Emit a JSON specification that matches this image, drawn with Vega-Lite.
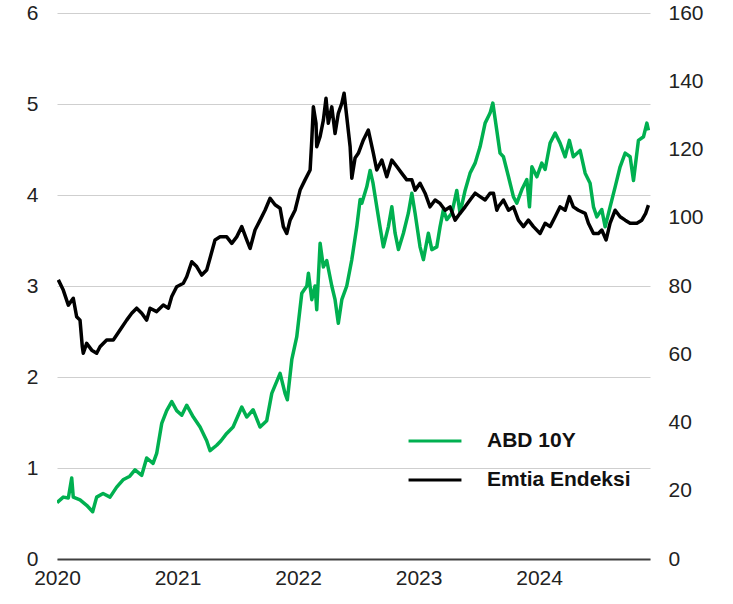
{
  "$schema": "https://vega.github.io/schema/vega-lite/v6.json",
  "autosize": "none",
  "width": 593,
  "height": 546,
  "padding": {"left": 57, "top": 13, "right": 83, "bottom": 45},
  "background": "white",
  "config": {
    "view": {"stroke": null},
    "font": "Liberation Sans",
    "axis": {"labelFont": "Liberation Sans", "labelFontSize": 21, "labelColor": "#222222", "ticks": false, "tickSize": 0, "title": null}
  },
  "datasets": {
    "abd": [
      {"t": 2020.000, "v": 0.62}, {"t": 2020.052, "v": 0.68}, {"t": 2020.094, "v": 0.67}, {"t": 2020.122, "v": 0.89},
      {"t": 2020.135, "v": 0.68}, {"t": 2020.191, "v": 0.65}, {"t": 2020.246, "v": 0.59}, {"t": 2020.296, "v": 0.52},
      {"t": 2020.329, "v": 0.68}, {"t": 2020.382, "v": 0.72}, {"t": 2020.440, "v": 0.68}, {"t": 2020.495, "v": 0.79},
      {"t": 2020.548, "v": 0.87}, {"t": 2020.604, "v": 0.91}, {"t": 2020.647, "v": 0.98}, {"t": 2020.703, "v": 0.92},
      {"t": 2020.744, "v": 1.11}, {"t": 2020.797, "v": 1.05}, {"t": 2020.827, "v": 1.16}, {"t": 2020.869, "v": 1.49},
      {"t": 2020.910, "v": 1.63}, {"t": 2020.952, "v": 1.73}, {"t": 2020.993, "v": 1.63}, {"t": 2021.035, "v": 1.58},
      {"t": 2021.076, "v": 1.69}, {"t": 2021.131, "v": 1.56}, {"t": 2021.187, "v": 1.45}, {"t": 2021.242, "v": 1.30},
      {"t": 2021.270, "v": 1.19}, {"t": 2021.325, "v": 1.25}, {"t": 2021.361, "v": 1.30}, {"t": 2021.408, "v": 1.38},
      {"t": 2021.461, "v": 1.45}, {"t": 2021.533, "v": 1.67}, {"t": 2021.574, "v": 1.56}, {"t": 2021.627, "v": 1.64},
      {"t": 2021.685, "v": 1.45}, {"t": 2021.740, "v": 1.52}, {"t": 2021.782, "v": 1.82}, {"t": 2021.851, "v": 2.04},
      {"t": 2021.892, "v": 1.82}, {"t": 2021.911, "v": 1.75}, {"t": 2021.948, "v": 2.19}, {"t": 2021.989, "v": 2.44},
      {"t": 2022.031, "v": 2.92}, {"t": 2022.073, "v": 3.00}, {"t": 2022.086, "v": 3.14}, {"t": 2022.114, "v": 2.85},
      {"t": 2022.141, "v": 3.00}, {"t": 2022.155, "v": 2.74}, {"t": 2022.183, "v": 3.47}, {"t": 2022.210, "v": 3.21},
      {"t": 2022.238, "v": 3.28}, {"t": 2022.280, "v": 3.00}, {"t": 2022.307, "v": 2.85}, {"t": 2022.334, "v": 2.59},
      {"t": 2022.363, "v": 2.85}, {"t": 2022.404, "v": 3.00}, {"t": 2022.446, "v": 3.29}, {"t": 2022.487, "v": 3.65},
      {"t": 2022.515, "v": 3.95}, {"t": 2022.529, "v": 3.91}, {"t": 2022.570, "v": 4.09}, {"t": 2022.598, "v": 4.27},
      {"t": 2022.622, "v": 4.13}, {"t": 2022.653, "v": 3.87}, {"t": 2022.680, "v": 3.65}, {"t": 2022.708, "v": 3.43},
      {"t": 2022.749, "v": 3.65}, {"t": 2022.778, "v": 3.87}, {"t": 2022.805, "v": 3.58}, {"t": 2022.833, "v": 3.40},
      {"t": 2022.874, "v": 3.58}, {"t": 2022.915, "v": 3.80}, {"t": 2022.944, "v": 4.02}, {"t": 2022.971, "v": 3.80},
      {"t": 2023.012, "v": 3.43}, {"t": 2023.040, "v": 3.29}, {"t": 2023.081, "v": 3.58}, {"t": 2023.110, "v": 3.40},
      {"t": 2023.151, "v": 3.43}, {"t": 2023.178, "v": 3.65}, {"t": 2023.206, "v": 3.84}, {"t": 2023.234, "v": 3.73},
      {"t": 2023.276, "v": 3.80}, {"t": 2023.317, "v": 4.05}, {"t": 2023.344, "v": 3.80}, {"t": 2023.386, "v": 4.05},
      {"t": 2023.427, "v": 4.24}, {"t": 2023.469, "v": 4.35}, {"t": 2023.510, "v": 4.53}, {"t": 2023.552, "v": 4.79},
      {"t": 2023.593, "v": 4.90}, {"t": 2023.616, "v": 5.01}, {"t": 2023.649, "v": 4.71}, {"t": 2023.676, "v": 4.46},
      {"t": 2023.704, "v": 4.42}, {"t": 2023.746, "v": 4.20}, {"t": 2023.787, "v": 3.98}, {"t": 2023.815, "v": 3.91},
      {"t": 2023.857, "v": 4.06}, {"t": 2023.898, "v": 4.17}, {"t": 2023.920, "v": 3.87}, {"t": 2023.940, "v": 4.31},
      {"t": 2023.981, "v": 4.20}, {"t": 2024.022, "v": 4.35}, {"t": 2024.050, "v": 4.28}, {"t": 2024.091, "v": 4.57},
      {"t": 2024.133, "v": 4.68}, {"t": 2024.174, "v": 4.57}, {"t": 2024.216, "v": 4.42}, {"t": 2024.251, "v": 4.60},
      {"t": 2024.284, "v": 4.42}, {"t": 2024.340, "v": 4.49}, {"t": 2024.382, "v": 4.24}, {"t": 2024.423, "v": 4.13},
      {"t": 2024.451, "v": 3.87}, {"t": 2024.479, "v": 3.76}, {"t": 2024.520, "v": 3.84}, {"t": 2024.548, "v": 3.65},
      {"t": 2024.589, "v": 3.87}, {"t": 2024.631, "v": 4.09}, {"t": 2024.672, "v": 4.31}, {"t": 2024.714, "v": 4.46},
      {"t": 2024.755, "v": 4.42}, {"t": 2024.783, "v": 4.16}, {"t": 2024.824, "v": 4.60}, {"t": 2024.866, "v": 4.64},
      {"t": 2024.894, "v": 4.79}, {"t": 2024.907, "v": 4.71}
    ],
    "emtia": [
      {"t": 2020.011, "v": 81.8}, {"t": 2020.052, "v": 78.8}, {"t": 2020.094, "v": 74.4}, {"t": 2020.135, "v": 76.4},
      {"t": 2020.163, "v": 71.0}, {"t": 2020.191, "v": 70.0}, {"t": 2020.210, "v": 62.2}, {"t": 2020.218, "v": 60.3},
      {"t": 2020.246, "v": 63.2}, {"t": 2020.288, "v": 61.2}, {"t": 2020.329, "v": 60.3}, {"t": 2020.357, "v": 62.2},
      {"t": 2020.412, "v": 64.2}, {"t": 2020.467, "v": 64.2}, {"t": 2020.523, "v": 67.1}, {"t": 2020.578, "v": 70.0},
      {"t": 2020.620, "v": 72.0}, {"t": 2020.661, "v": 73.5}, {"t": 2020.703, "v": 72.0}, {"t": 2020.744, "v": 70.0},
      {"t": 2020.772, "v": 73.5}, {"t": 2020.827, "v": 72.5}, {"t": 2020.882, "v": 74.4}, {"t": 2020.924, "v": 73.5},
      {"t": 2020.952, "v": 76.9}, {"t": 2020.993, "v": 79.8}, {"t": 2021.048, "v": 80.8}, {"t": 2021.076, "v": 82.7},
      {"t": 2021.118, "v": 87.1}, {"t": 2021.159, "v": 85.7}, {"t": 2021.201, "v": 83.2}, {"t": 2021.242, "v": 84.7},
      {"t": 2021.270, "v": 88.2}, {"t": 2021.311, "v": 93.5}, {"t": 2021.353, "v": 94.4}, {"t": 2021.408, "v": 94.4},
      {"t": 2021.450, "v": 92.5}, {"t": 2021.491, "v": 94.4}, {"t": 2021.533, "v": 97.4}, {"t": 2021.574, "v": 93.5},
      {"t": 2021.602, "v": 91.0}, {"t": 2021.643, "v": 96.4}, {"t": 2021.685, "v": 99.3}, {"t": 2021.726, "v": 102.2},
      {"t": 2021.768, "v": 105.7}, {"t": 2021.809, "v": 103.8}, {"t": 2021.851, "v": 102.8}, {"t": 2021.878, "v": 97.4},
      {"t": 2021.906, "v": 95.4}, {"t": 2021.934, "v": 99.3}, {"t": 2021.975, "v": 102.2}, {"t": 2022.017, "v": 108.1},
      {"t": 2022.058, "v": 111.1}, {"t": 2022.100, "v": 114.0}, {"t": 2022.114, "v": 122.8}, {"t": 2022.127, "v": 132.5},
      {"t": 2022.149, "v": 127.7}, {"t": 2022.155, "v": 120.8}, {"t": 2022.183, "v": 123.8}, {"t": 2022.210, "v": 128.6},
      {"t": 2022.232, "v": 135.0}, {"t": 2022.251, "v": 127.7}, {"t": 2022.280, "v": 132.5}, {"t": 2022.307, "v": 124.7},
      {"t": 2022.334, "v": 130.6}, {"t": 2022.363, "v": 133.5}, {"t": 2022.382, "v": 136.5}, {"t": 2022.404, "v": 129.6},
      {"t": 2022.432, "v": 120.8}, {"t": 2022.446, "v": 111.6}, {"t": 2022.473, "v": 117.5}, {"t": 2022.500, "v": 118.9},
      {"t": 2022.542, "v": 122.8}, {"t": 2022.583, "v": 125.7}, {"t": 2022.625, "v": 118.9}, {"t": 2022.653, "v": 114.0},
      {"t": 2022.695, "v": 116.9}, {"t": 2022.736, "v": 112.0}, {"t": 2022.778, "v": 116.9}, {"t": 2022.819, "v": 115.0},
      {"t": 2022.861, "v": 113.0}, {"t": 2022.902, "v": 111.1}, {"t": 2022.944, "v": 111.1}, {"t": 2022.971, "v": 108.1},
      {"t": 2023.012, "v": 110.1}, {"t": 2023.054, "v": 107.2}, {"t": 2023.095, "v": 103.2}, {"t": 2023.137, "v": 105.2},
      {"t": 2023.178, "v": 104.2}, {"t": 2023.220, "v": 102.2}, {"t": 2023.261, "v": 103.2}, {"t": 2023.303, "v": 99.3},
      {"t": 2023.344, "v": 101.3}, {"t": 2023.386, "v": 103.2}, {"t": 2023.427, "v": 105.2}, {"t": 2023.469, "v": 107.2},
      {"t": 2023.510, "v": 106.2}, {"t": 2023.552, "v": 105.2}, {"t": 2023.593, "v": 107.2}, {"t": 2023.621, "v": 107.2},
      {"t": 2023.649, "v": 102.2}, {"t": 2023.662, "v": 103.2}, {"t": 2023.704, "v": 105.2}, {"t": 2023.746, "v": 102.2},
      {"t": 2023.787, "v": 103.2}, {"t": 2023.828, "v": 99.3}, {"t": 2023.870, "v": 97.4}, {"t": 2023.911, "v": 99.3},
      {"t": 2023.953, "v": 97.4}, {"t": 2024.008, "v": 95.4}, {"t": 2024.050, "v": 98.4}, {"t": 2024.091, "v": 97.4},
      {"t": 2024.133, "v": 100.3}, {"t": 2024.174, "v": 103.2}, {"t": 2024.216, "v": 102.2}, {"t": 2024.251, "v": 106.2},
      {"t": 2024.284, "v": 103.2}, {"t": 2024.326, "v": 102.2}, {"t": 2024.382, "v": 101.3}, {"t": 2024.409, "v": 98.4},
      {"t": 2024.451, "v": 95.4}, {"t": 2024.492, "v": 95.4}, {"t": 2024.520, "v": 96.4}, {"t": 2024.556, "v": 93.5},
      {"t": 2024.589, "v": 98.4}, {"t": 2024.631, "v": 102.2}, {"t": 2024.672, "v": 100.3}, {"t": 2024.714, "v": 99.3},
      {"t": 2024.755, "v": 98.4}, {"t": 2024.811, "v": 98.4}, {"t": 2024.852, "v": 99.3}, {"t": 2024.884, "v": 101.3},
      {"t": 2024.907, "v": 103.7}
    ]
  },
  "layer": [
    {
      "data": {"name": "abd"},
      "mark": {"type": "line", "strokeWidth": 3.5, "strokeJoin": "round", "clip": true},
      "encoding": {
        "x": {
          "field": "t", "type": "quantitative",
          "scale": {"domain": [2020, 2024.92], "nice": false, "zero": false},
          "axis": {"values": [2020, 2021, 2022, 2023, 2024], "format": "d", "grid": false, "domain": true, "domainColor": "#404040", "domainWidth": 2, "labelPadding": 8, "labelFlush": false, "labelOverlap": false}
        },
        "y": {
          "field": "v", "type": "quantitative",
          "scale": {"domain": [0, 6], "nice": false},
          "axis": {"orient": "left", "values": [0, 1, 2, 3, 4, 5, 6], "domain": false, "grid": true, "gridColor": "#cfcfcf", "gridWidth": 1, "labelPadding": 19}
        },
        "color": {
          "datum": "ABD 10Y",
          "scale": {"domain": ["ABD 10Y", "Emtia Endeksi"], "range": ["#00b050", "#000000"]},
          "legend": {
            "title": null, "orient": "none", "legendX": 350, "legendY": 400,
            "symbolType": "stroke", "symbolSize": 2800, "symbolStrokeWidth": 3,
            "labelFont": "Liberation Sans", "labelFontSize": 21, "labelFontWeight": "bold", "labelColor": "#111111",
            "labelOffset": 24, "rowPadding": 1, "padding": 0
          }
        }
      }
    },
    {
      "data": {"name": "emtia"},
      "mark": {"type": "line", "strokeWidth": 3.5, "strokeJoin": "round", "clip": true},
      "encoding": {
        "x": {"field": "t", "type": "quantitative"},
        "y": {
          "field": "v", "type": "quantitative",
          "scale": {"domain": [0, 160], "nice": false},
          "axis": {"orient": "right", "values": [0, 20, 40, 60, 80, 100, 120, 140, 160], "domain": false, "grid": false, "labelPadding": 18}
        },
        "color": {"datum": "Emtia Endeksi"}
      }
    }
  ],
  "resolve": {"scale": {"y": "independent"}, "axis": {"y": "independent"}}
}
